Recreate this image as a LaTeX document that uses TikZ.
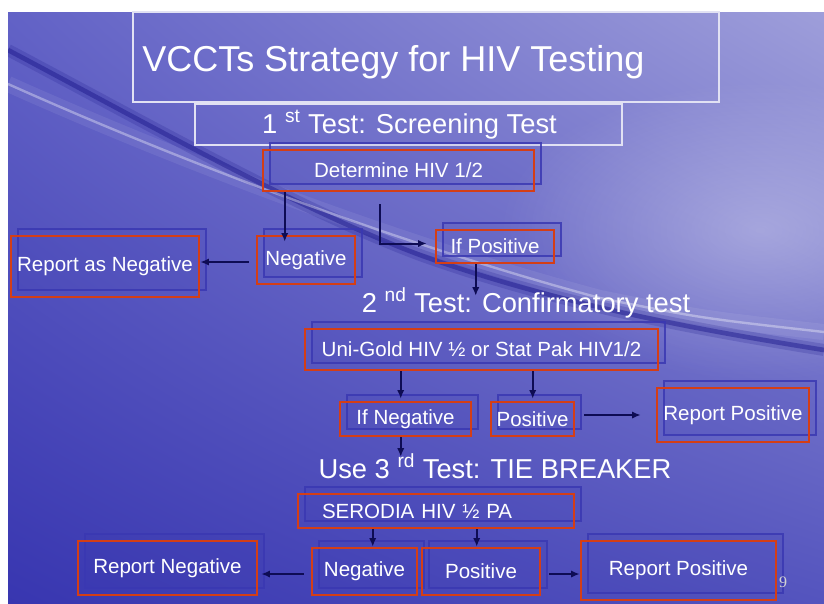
\documentclass[tikz,border=0pt]{standalone}
\usepackage{fontspec}
\setmainfont{Liberation Sans}
\newfontfamily\numfont{Liberation Serif}
\usetikzlibrary{arrows.meta,shadows,shadings,fadings,calc}

\definecolor{boxred}{RGB}{212,62,22}
\definecolor{boxblue}{RGB}{58,56,178}
\definecolor{arrowblue}{RGB}{14,12,84}
\definecolor{bgUL}{RGB}{98,98,198}
\definecolor{bgUR}{RGB}{158,158,218}
\definecolor{bgLL}{RGB}{56,54,176}
\definecolor{bgLR}{RGB}{84,84,190}
\definecolor{swoosh}{RGB}{26,22,138}

\tikzfading[name=glow, inner color=transparent!0, outer color=transparent!100]

\tikzset{
    sz/.style 2 args={minimum width=#1*0.75pt, minimum height=#2*0.75pt},
    redbox/.style={draw=boxred, line width=1.9pt, inner sep=0pt, text=white,
        font=\fontsize{15.4}{18}\selectfont,
        copy shadow={shadow xshift=5.25pt, shadow yshift=5.25pt, draw=boxblue,
            draw opacity=0.85, fill=boxblue, fill opacity=0.1, line width=1.9pt}},
    heading/.style={text=white, inner sep=0pt, font=\fontsize{20.5}{24}\selectfont},
    whitebox/.style={draw=white!85!boxblue, line width=0.9pt},
    arr/.style={draw=arrowblue, line width=1.5pt, -{Latex[length=6.5pt,width=5.5pt]}}
}

\begin{document}
\begin{tikzpicture}[x=0.75pt, y=-0.75pt]

    % slide background
    \fill[white] (0,0) rectangle (824,603);
    \useasboundingbox (0,0) rectangle (824,603);
    \shade[upper left=bgUL, upper right=bgUR, lower left=bgLL, lower right=bgLR]
        (8,12) rectangle (824,603);
    \begin{scope}
        \clip (8,12) rectangle (824,603);
        \fill[white, opacity=0.3, path fading=glow] (760,230) ellipse (260 and 150);
        \draw[white, line width=12pt, opacity=0.07]
            (8,84) .. controls (200,170) and (420,250) .. (600,298) .. controls (700,318) .. (824,332);
        \draw[swoosh, line width=9pt, opacity=0.2]
            (8,50) .. controls (150,125) and (300,210) .. (420,255) .. controls (560,305) and (700,330) .. (824,350);
        \draw[swoosh, line width=3.5pt, opacity=0.45]
            (8,50) .. controls (150,125) and (300,210) .. (420,255) .. controls (560,305) and (700,330) .. (824,350);
        \draw[white, line width=1.8pt, opacity=0.35]
            (8,84) .. controls (200,170) and (420,250) .. (600,298) .. controls (700,318) .. (824,332);
    \end{scope}

    % title
    \node[whitebox, sz={586}{90}] (ttlbox) at (426,57) {};
    \node[text=white, inner sep=0pt, anchor=base west, font=\fontsize{27}{32}\selectfont]
        (ttl) at (142,71) {VCCTs Strategy for HIV Testing};

    % 1st test
    \node[whitebox, sz={427}{41}] (h1box) at (408.5,124.5) {};
    \node[heading, anchor=base] (h1) at (409.5,133) {1 \textsuperscript{st} Test: Screening Test};

    \node[redbox, sz={271}{41}] (det) at (398.5,170.5) {Determine HIV 1/2};
    \node[redbox, sz={98}{48}] (neg1) at (306,260) {Negative};
    \node[redbox, sz={188}{61}] (repneg1) at (105,266.5) {Report as Negative};
    \node[redbox, sz={118}{33}] (ifpos) at (495,246.5) {If Positive};

    % 2nd test
    \node[heading, anchor=base] (h2) at (526,312) {2 \textsuperscript{nd} Test: Confirmatory test};

    \node[redbox, sz={353}{41}] (unigold) at (481.5,349.5) {Uni-Gold HIV ½ or Stat Pak HIV1/2};
    \node[redbox, sz={131}{34}] (ifneg) at (405.5,419) {If Negative};
    \node[redbox, sz={83}{34}] (pos2) at (532.5,419) {Positive};
    \node[redbox, sz={152}{54}] (reppos2) at (733,415) {Report Positive};

    % 3rd test
    \node[heading, anchor=base] (h3) at (495,478) {Use 3 \textsuperscript{rd} Test: TIE BREAKER};

    \node[redbox, inner xsep=18pt, text width=171pt, align=left, minimum height=25.5pt]
        (serodia) at (436,511) {SERODIA HIV ½ PA};
    \node[redbox, sz={105}{47}] (neg3) at (364.5,571.5) {Negative};
    \node[redbox, sz={118}{47}] (pos3) at (481,571.5) {Positive};
    \node[redbox, sz={179}{54}] (repneg3) at (167.5,568) {Report Negative};
    \node[redbox, sz={195}{59}] (reppos3) at (678.5,570.5) {Report Positive};

    \node[text=white!65!gray, inner sep=0pt, font=\numfont\fontsize{12}{14}\selectfont]
        (pnum) at (783,582) {9};

    % arrows
    \draw[arr] ($(det.south west)+(23,0)$) -- ($(neg1.north west)+(29,7)$);
    \draw[arr] ($(det.south west)+(118,12)$) |- ($(ifpos.west)+(-8,-3)$);
    \draw[arr] ($(neg1.west)+(-7,2)$) coordinate (n1) -- (n1 -| repneg1.east);
    \draw[arr] ($(ifpos.south west)+(41,0)$) coordinate (p1) -- ($(p1 |- h2.north)+(0,8)$);

    \draw[arr] ($(unigold.south west)+(97,0)$) -- ($(ifneg.north west)+(62,-2)$);
    \draw[arr] ($(unigold.south west)+(229,0)$) -- ($(pos2.north west)+(43,-2)$);
    \draw[arr] ($(pos2.east)+(9,-4)$) -- ($(reppos2.west)+(-15,0)$);
    \draw[arr] ($(ifneg.south west)+(62,0)$) coordinate (n2) -- ($(n2 |- h3.north)+(0,3)$);

    \draw[arr] ($(serodia.south west)+(76,0)$) -- ($(neg3.north west)+(62,0)$);
    \draw[arr] ($(serodia.south west)+(180,0)$) -- ($(pos3.north west)+(56,0)$);
    \draw[arr] ($(neg3.west)+(-7,2.5)$) coordinate (n3) -- ($(n3 -| repneg3.east)+(3,0)$);
    \draw[arr] ($(pos3.east)+(8,2.5)$) coordinate (p3) -- (p3 -| reppos3.west);
\end{tikzpicture}
\end{document}
